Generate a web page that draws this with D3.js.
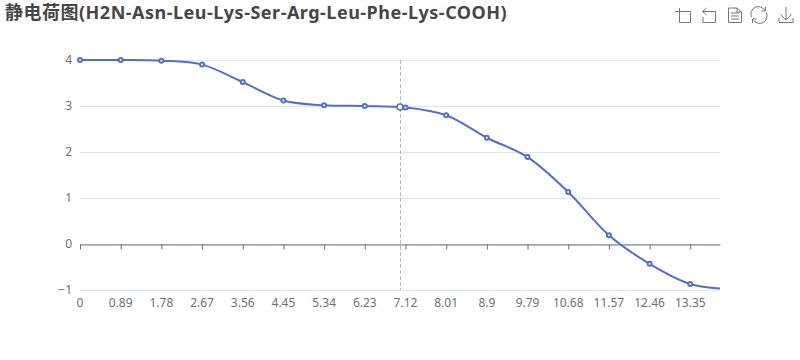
<!DOCTYPE html>
<html>
<head>
<meta charset="utf-8">
<script src="https://cdn.jsdelivr.net/npm/d3@7"></script>
<style>
  html, body { margin: 0; padding: 0; background: #fff; }
  text { font-family: "Noto Sans", "Noto Sans CJK SC", sans-serif; }
</style>
</head>
<body>
<div id="chart"></div>
<script>
// pH points that carry a marker and a tick label
const tickPH = [0, 0.89, 1.78, 2.67, 3.56, 4.45, 5.34, 6.23, 7.12, 8.01, 8.9, 9.79, 10.68, 11.57, 12.46, 13.35];
const tickCharge = [4, 3.999, 3.985, 3.9, 3.52, 3.12, 3.015, 3.0, 2.97, 2.8, 2.31, 1.89, 1.13, 0.19, -0.43, -0.87];
// end of the line, no marker there
const endPH = [14];
const endCharge = [-0.965];
const yTicks = [-1, 0, 1, 2, 3, 4];
const hoverPH = 7;
const hoverCharge = 2.98;
const title = "静电荷图(H2N-Asn-Leu-Lys-Ser-Arg-Leu-Phe-Lys-COOH)";

const margin = { top: 60, left: 80, right: 80, bottom: 70 },
  width = 800 - margin.left - margin.right,
  height = 360 - margin.top - margin.bottom;

const svg = d3.select("#chart").append("svg")
  .attr("width", 800)
  .attr("height", 360)
  .style("display", "block");

const g = svg.append("g")
  .attr("transform", "translate(" + margin.left + "," + margin.top + ")");

const x = d3.scaleLinear().domain([0, 14]).range([0, width]);
const y = d3.scaleLinear().domain([-1, 4]).range([height, 0]);

// grid
g.append("g").selectAll("line")
  .data(yTicks)
  .join("line")
  .attr("x1", 0)
  .attr("x2", width)
  .attr("y1", d => Math.round(y(d)) + 0.5)
  .attr("y2", d => Math.round(y(d)) + 0.5)
  .attr("stroke", "#E0E6F1");

// y labels
const yAxis = g.append("g").call(d3.axisLeft(y).tickValues(yTicks).tickSize(0).tickPadding(8).tickFormat(d3.format("d")));
yAxis.select(".domain").remove();
yAxis.selectAll("text").attr("fill", "#6E7079").attr("dy", "0.25em").style("font-size", "12px");

// tick marks sit on the zero line, labels sit under the plot
const xAxis = g.append("g")
  .attr("transform", "translate(0," + (Math.round(y(0)) + 0.5) + ")")
  .call(d3.axisBottom(x).tickValues(tickPH).tickSize(5).tickSizeOuter(0).tickFormat(""));
xAxis.select(".domain").attr("stroke", "#6E7079");
xAxis.selectAll(".tick line").attr("stroke", "#6E7079");

g.append("g").selectAll("text")
  .data(tickPH)
  .join("text")
  .attr("x", d => x(d))
  .attr("y", y(-1) + 17)
  .attr("text-anchor", "middle")
  .attr("fill", "#6E7079")
  .style("font-size", "12px")
  .text(d => d);

// hover guide
g.append("line")
  .attr("x1", x(hoverPH) + 0.5)
  .attr("x2", x(hoverPH) + 0.5)
  .attr("y1", 0)
  .attr("y2", height)
  .attr("stroke", "#B6B9C6")
  .attr("stroke-dasharray", "4 2");

const lineData = tickPH.concat(endPH).map((d, i) => [d, tickCharge.concat(endCharge)[i]]);
const line = d3.line()
  .x(d => x(d[0]))
  .y(d => y(d[1]))
  .curve(d3.curveCatmullRom);

g.append("path")
  .datum(lineData)
  .attr("d", line)
  .attr("fill", "none")
  .attr("stroke", "#5470C6")
  .attr("stroke-width", 2);

g.append("g").selectAll("circle")
  .data(tickPH.map((d, i) => [d, tickCharge[i]]))
  .join("circle")
  .attr("cx", d => x(d[0]))
  .attr("cy", d => y(d[1]))
  .attr("r", 2)
  .attr("fill", "#fff")
  .attr("stroke", "#5470C6")
  .attr("stroke-width", 2);

g.append("circle")
  .attr("cx", x(hoverPH))
  .attr("cy", y(hoverCharge))
  .attr("r", 3)
  .attr("fill", "#fff")
  .attr("stroke", "#5470C6")
  .attr("stroke-width", 1.5);

// title
svg.append("text")
  .attr("x", 5)
  .attr("y", 19)
  .attr("fill", "#464646")
  .style("font-size", "18px")
  .style("font-weight", "bold")
  .style("letter-spacing", "0.5px")
  .text(title);

// toolbox icons
const icons = [
  "M675,11.5H690.5V22.5H679.5V8",
  "M706.5,8L702.5,11.5L706.5,15 M702.5,11.5H715.5V22.5H703V17",
  "M728.5,8H737L741.5,12V22.5H728.5Z M737,8V12H741.5 M731,13H739 M731,16H739 M731,19H739",
  "M751.5,17A7.5,7.5 0 0 1 765,10.5 M766.5,13A7.5,7.5 0 0 1 753,19.5 M765.5,7V11H761.5 M752.5,23V19H756.5",
  "M786,7V20 M780.5,14.5L786,20L791.5,14.5 M779,18V22.5H793V18"
];
svg.append("g").selectAll("path")
  .data(icons)
  .join("path")
  .attr("d", d => d)
  .attr("fill", "none")
  .attr("stroke", "#777")
  .attr("stroke-width", 1);
</script>
</body>
</html>
